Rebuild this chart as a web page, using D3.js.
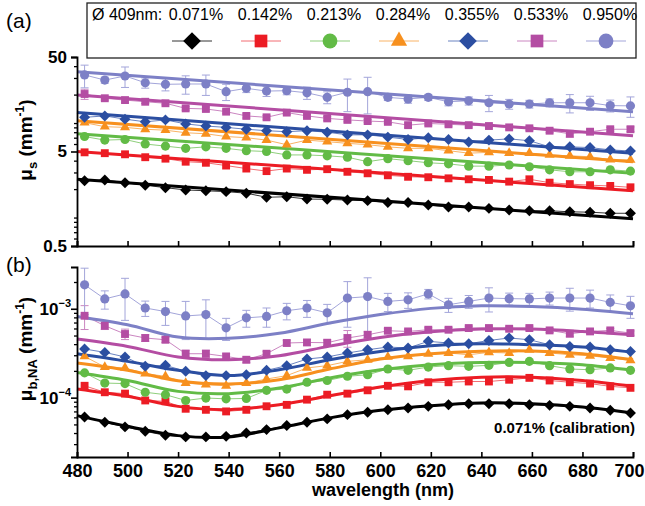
<!DOCTYPE html>
<html>
<head>
<meta charset="utf-8">
<script src="https://cdn.jsdelivr.net/npm/d3@7/dist/d3.min.js"></script>
<style>
  body { margin: 0; background: #fff; }
  text { font-family: "Liberation Sans", Arial, sans-serif; }
</style>
</head>
<body>
<svg id="chart" width="645" height="506"></svg>
<script>
// measured wavelengths (nm)
var wavelengths = [483, 491, 499, 507, 515, 523, 531, 539, 547, 555, 563, 571, 579,
                   587, 595, 603, 611, 619, 627, 635, 643, 651, 659, 667, 675, 683, 691, 699];
var xTicks = [480, 500, 520, 540, 560, 580, 600, 620, 640, 660, 680, 700];

var seriesNames = ["0.071%", "0.142%", "0.213%", "0.284%", "0.355%", "0.533%", "0.950%"];

// (a) mu_s, mm^-1
var mus071 = [2.45, 2.5, 2.34, 2.2, 2.07, 1.96, 1.92, 1.88, 1.81, 1.64, 1.66, 1.57, 1.56,
              1.53, 1.51, 1.44, 1.44, 1.36, 1.29, 1.29, 1.25, 1.20, 1.18, 1.18, 1.15, 1.14, 1.11, 1.11];
var mus142 = [4.9, 4.8, 4.67, 4.35, 4.2, 3.9, 3.8, 3.55, 3.3, 3.1, 3.3, 3.2, 3.25,
              3.05, 2.94, 2.8, 2.7, 2.67, 2.6, 2.54, 2.5, 2.4, 2.54, 2.34, 2.26, 2.2, 2.16, 2.09];
var mus213 = [7.2, 6.6, 6.7, 6.0, 5.7, 5.4, 5.6, 5.4, 5.1, 5.0, 4.6, 4.6, 4.5,
              4.35, 3.9, 4.2, 4.0, 3.8, 3.7, 3.5, 3.5, 3.6, 3.45, 3.2, 3.05, 3.05, 3.2, 3.1];
var mus284 = [10.1, 9.15, 9.0, 8.6, 8.4, 7.9, 7.7, 7.2, 7.0, 6.6, 5.9, 6.6, 6.35,
              6.1, 5.9, 5.6, 5.4, 5.4, 5.1, 4.8, 4.9, 4.8, 4.8, 4.6, 4.5, 4.4, 4.1, 4.07];
var mus355 = [11.5, 11.9, 11.0, 10.3, 10.8, 9.8, 9.3, 9.0, 8.6, 8.3, 8.1, 8.3, 8.0,
              7.5, 7.5, 7.1, 6.7, 7.0, 6.7, 6.3, 6.6, 6.8, 6.5, 5.6, 5.6, 5.5, 5.2, 5.06];
var mus533 = [20.3, 18.3, 17.5, 16.8, 16.2, 14.3, 14.1, 13.2, 11.9, 11.5, 12.9, 11.9, 11.2,
              10.8, 10.5, 10.3, 9.5, 9.9, 9.7, 9.5, 9.3, 9.0, 8.8, 8.3, 7.7, 8.1, 8.6, 8.6];
var mus950 = [32.3, 28.5, 31.5, 26.7, 25.7, 25.9, 25.9, 21.5, 23.3, 21.8, 22.0, 20.9, 18.7,
              21.2, 21.5, 18.7, 18.0, 18.7, 16.8, 17.2, 16.4, 15.9, 15.9, 16.4, 16.4, 16.4, 15.3, 15.2];
var errMus533 = [2.5, 0.8, 0.9, 0.7, 0.6, 0.6, 0.7, 0.5, 0.6, 0.5, 0.6, 0.5, 0.5,
                 0.5, 0.4, 0.4, 0.5, 0.4, 0.4, 0.4, 0.4, 0.4, 0.4, 0.4, 0.6, 0.4, 0.4, 0.5];
var errMus950 = [8.7, 2.1, 7.7, 3.3, 3.8, 5.7, 6.3, 4.2, 2.3, 2.7, 2.1, 3.1, 2.7,
                 8, 9, 1.4, 1.8, 1.4, 1.6, 1.7, 3.2, 1.9, 1.5, 1.6, 3.6, 2.8, 2.2, 3.7];

// (a) power-law fits, values at the ends of the range
var fitWlA = [480, 700];
var fitMus071 = [2.54, 0.97];
var fitMus142 = [5.0, 1.92];
var fitMus213 = [7.7, 2.94];
var fitMus284 = [10.6, 3.9];
var fitMus355 = [12.9, 4.8];
var fitMus533 = [19.8, 7.35];
var fitMus950 = [34.9, 13.2];

// (b) mu_b,NA in units of 1e-4 mm^-1
var mubUnit = 1e-4;
var mub071 = [0.607, 0.528, 0.469, 0.418, 0.377, 0.362, 0.362, 0.367, 0.401, 0.437, 0.485, 0.528, 0.577,
              0.644, 0.684, 0.733, 0.766, 0.798, 0.834, 0.856, 0.856, 0.856, 0.834, 0.819, 0.798, 0.766, 0.72, 0.673];
var mub142 = [1.36, 1.15, 1.11, 0.93, 0.91, 0.75, 0.73, 0.70, 0.73, 0.80, 0.83, 0.95, 1.08,
              1.11, 1.21, 1.36, 1.34, 1.49, 1.49, 1.52, 1.52, 1.59, 1.67, 1.56, 1.49, 1.44, 1.34, 1.29];
var mub213 = [1.90, 1.46, 1.44, 1.15, 1.08, 0.93, 0.99, 0.97, 0.98, 1.21, 1.25, 1.49, 1.56,
              1.74, 1.81, 2.10, 2.03, 2.21, 2.29, 2.25, 2.31, 2.49, 2.56, 2.29, 2.10, 2.06, 2.16, 2.03];
var mub284 = [2.91, 2.21, 2.16, 1.86, 1.74, 1.46, 1.40, 1.36, 1.46, 1.62, 1.77, 2.16, 2.29,
              2.56, 2.67, 2.87, 2.91, 3.12, 3.18, 3.04, 3.23, 3.18, 3.46, 3.18, 3.04, 2.96, 2.79, 2.63];
var mub355 = [3.53, 3.23, 2.87, 2.25, 2.31, 1.98, 1.77, 1.77, 1.81, 2.03, 2.29, 2.72, 2.87,
              3.18, 3.46, 3.71, 3.62, 4.3, 4.12, 4.04, 4.4, 4.69, 4.48, 3.94, 3.77, 3.71, 3.46, 3.31];
var mub533 = [8.34, 6.44, 5.2, 4.69, 4.48, 3.12, 3.12, 2.91, 2.67, 3.12, 4.12, 4.18, 4.15,
              4.69, 5.1, 5.66, 5.56, 5.81, 5.81, 6.07, 6.07, 5.96, 6.07, 5.71, 5.24, 5.56, 5.71, 5.33];
var mub950 = [18.6, 12.9, 14.7, 10.2, 9.3, 8.3, 8.6, 6.1, 7.9, 8.2, 9.5, 10.2, 9.0,
              13.2, 13.7, 12.1, 12.6, 14.7, 11.1, 12.1, 13.2, 13.0, 12.9, 13.2, 13.2, 13.2, 11.8, 10.8];
var errMub533 = [2.5, 0.6, 0.7, 0.4, 0.3, 0.3, 0.3, 0.2, 0.2, 0.2, 0.3, 0.3, 0.3,
                 1.0, 0.4, 0.3, 0.3, 0.3, 0.3, 0.3, 0.3, 0.3, 0.3, 0.3, 0.4, 0.3, 0.3, 0.3];
var errMub950 = [10, 3, 7.3, 2, 2.8, 3.8, 4, 1.7, 1.7, 2, 2, 2.2, 2.2,
                 7, 8.6, 2.8, 2.5, 1.8, 2, 2, 4, 2, 2, 2.2, 3.8, 3, 2.5, 3];

// (b) model fits
var fitWlB = [480, 500, 520, 540, 560, 580, 600, 620, 640, 660, 680, 700];
var fitMub071 = [0.628, 0.476, 0.374, 0.362, 0.457, 0.592, 0.72, 0.813, 0.871, 0.856, 0.786, 0.673];
var fitMub142 = [1.253, 1.035, 0.798, 0.733, 0.834, 1.05, 1.32, 1.56, 1.70, 1.70, 1.56, 1.34];
var fitMub213 = [1.92, 1.56, 1.177, 1.11, 1.285, 1.665, 2.06, 2.35, 2.49, 2.49, 2.35, 2.03];
var fitMub284 = [2.45, 2.03, 1.55, 1.425, 1.59, 2.1, 2.72, 3.12, 3.33, 3.35, 3.12, 2.67];
var fitMub355 = [3.12, 2.56, 2.03, 1.77, 2.06, 2.67, 3.31, 3.84, 4.04, 3.94, 3.71, 3.23];
var fitMub533 = [4.56, 3.77, 2.87, 2.67, 2.96, 3.8, 4.75, 5.5, 5.91, 5.91, 5.56, 5.1];
var fitMub950 = [8.2, 6.6, 4.8, 4.65, 5.3, 6.9, 8.6, 10.1, 10.8, 10.6, 9.9, 8.8];

var colors     = ["#000000", "#ec1c24", "#62bb46", "#f7901e", "#2b4ea1", "#b44da3", "#7d80c6"];
var thinColors = ["#333333", "#f26d72", "#8fcf7c", "#f9b366", "#6a83c1", "#cb86c1", "#a3a5da"];
var shapes     = ["diamond", "square", "circle", "triangle", "diamond", "square", "circle"];

var svg = d3.select("#chart");

var x  = d3.scaleLinear().domain([480, 700]).range([77, 633]);
var yA = d3.scaleLog().domain([0.5, 50]).range([246, 57]);
var yB = d3.scaleLog().domain([2.15e-5, 2.95e-3]).range([457, 267]);

function symbolPath(shape, big) {
    var k = big ? 2.6 : 1;
    if (shape === "diamond") return d3.symbol(d3.symbolSquare, 60 * k)();
    if (shape === "square") return d3.symbol(d3.symbolSquare, 62 * k)();
    if (shape === "circle") return d3.symbol(d3.symbolCircle, 66 * k)();
    return d3.symbol(d3.symbolTriangle, 44 * k)();
}

function drawPanel(y, data, errs, fitWl, fits, unit, curve) {
    var g = svg.append("g");
    var lo = y.domain()[0];

    data.forEach(function(vals, s) {
        if (!errs[s]) return;
        var eb = g.append("g").attr("stroke", thinColors[s]).attr("stroke-width", 1);
        vals.forEach(function(v, i) {
            var e = errs[s][i];
            var cx = x(wavelengths[i]);
            var y1 = y((v + e) * unit), y2 = y(Math.max(v - e, lo / unit * 1.01) * unit);
            eb.append("line").attr("x1", cx).attr("x2", cx).attr("y1", y1).attr("y2", y2);
            eb.append("line").attr("x1", cx - 4).attr("x2", cx + 4).attr("y1", y1).attr("y2", y1);
            eb.append("line").attr("x1", cx - 4).attr("x2", cx + 4).attr("y1", y2).attr("y2", y2);
        });
    });

    var thin = d3.line().x(function(d, i) { return x(wavelengths[i]); })
                        .y(function(d) { return y(d * unit); });
    data.forEach(function(vals, s) {
        g.append("path").attr("d", thin(vals))
         .attr("fill", "none").attr("stroke", thinColors[s]).attr("stroke-width", 1);
    });

    var fitLine = d3.line().curve(curve)
                    .x(function(d, i) { return x(fitWl[i]); })
                    .y(function(d) { return y(d * unit); });
    fits.forEach(function(vals, s) {
        g.append("path").attr("d", fitLine(vals))
         .attr("fill", "none").attr("stroke", colors[s]).attr("stroke-width", 3);
    });

    data.forEach(function(vals, s) {
        g.append("g").selectAll("path")
         .data(vals)
         .enter()
         .append("path")
         .attr("d", symbolPath(shapes[s], false))
         .attr("transform", function(d, i) {
             return "translate(" + x(wavelengths[i]) + "," + y(d * unit) + ")" +
                    (shapes[s] === "diamond" ? " rotate(45)" : "");
         })
         .attr("fill", colors[s]);
    });
}

drawPanel(yA,
          [mus071, mus142, mus213, mus284, mus355, mus533, mus950],
          [null, null, null, null, null, errMus533, errMus950],
          fitWlA,
          [fitMus071, fitMus142, fitMus213, fitMus284, fitMus355, fitMus533, fitMus950],
          1, d3.curveLinear);

drawPanel(yB,
          [mub071, mub142, mub213, mub284, mub355, mub533, mub950],
          [null, null, null, null, null, errMub533, errMub950],
          fitWlB,
          [fitMub071, fitMub142, fitMub213, fitMub284, fitMub355, fitMub533, fitMub950],
          mubUnit, d3.curveCatmullRom);

// axes
function isMajor(v, majors) {
    return majors.some(function(m) { return Math.abs(v / m - 1) < 1e-6; });
}

function styleAxis(sel) {
    sel.select(".domain").attr("stroke-width", 1.8);
    sel.selectAll(".tick line").attr("stroke-width", 1.6);
    sel.selectAll("text").attr("font-weight", "bold").attr("fill", "#000");
}

var majorsA = [0.5, 5, 50];
var axA = svg.append("g").attr("transform", "translate(77,0)")
             .call(d3.axisLeft(yA).tickValues(majorsA).tickSize(6).tickPadding(4)
                     .tickFormat(d3.format("~g")));
styleAxis(axA);
axA.selectAll("text").attr("font-size", 17).attr("font-family", "Liberation Sans, Arial, sans-serif");

var axAminor = svg.append("g").attr("transform", "translate(77,0)")
                  .call(d3.axisLeft(yA).tickValues(yA.ticks().filter(function(v) { return !isMajor(v, majorsA); }))
                          .tickSize(3).tickFormat(""));
axAminor.select(".domain").remove();
axAminor.selectAll(".tick line").attr("stroke-width", 1.3);

var axAx = svg.append("g").attr("transform", "translate(0,246)")
              .call(d3.axisBottom(x).tickValues(xTicks).tickSize(-5).tickFormat(""));
styleAxis(axAx);

var majorsB = [1e-3, 1e-4];
var axB = svg.append("g").attr("transform", "translate(77,0)")
             .call(d3.axisLeft(yB).tickValues(majorsB).tickSize(6).tickFormat(""));
styleAxis(axB);
axB.selectAll(".tick").each(function(d) {
    var t = d3.select(this).append("text")
              .attr("x", -6).attr("y", 6)
              .attr("text-anchor", "end")
              .attr("font-weight", "bold")
              .attr("font-size", 17)
              .attr("fill", "#000");
    t.append("tspan").text("10");
    t.append("tspan").attr("font-size", 11).attr("dy", -8).text(d3.format("d")(Math.log10(d)));
});

var axBminor = svg.append("g").attr("transform", "translate(77,0)")
                  .call(d3.axisLeft(yB).tickValues(yB.ticks().filter(function(v) { return !isMajor(v, majorsB); }))
                          .tickSize(3).tickFormat(""));
axBminor.select(".domain").remove();
axBminor.selectAll(".tick line").attr("stroke-width", 1.3);

var axBx = svg.append("g").attr("transform", "translate(0,457)")
              .call(d3.axisBottom(x).tickValues(xTicks).tickSize(-5).tickPadding(7).tickFormat(d3.format("d")));
styleAxis(axBx);
axBx.selectAll("text").attr("font-size", 18).attr("font-family", "Liberation Sans, Arial, sans-serif");
// keep the last label inside the picture
axBx.selectAll(".tick text").filter(function(d) { return d === 700; }).attr("dx", -4);

// axis titles
svg.append("text").attr("x", 383).attr("y", 496)
   .attr("text-anchor", "middle").attr("font-weight", "bold").attr("font-size", 18)
   .text("wavelength (nm)");

var tA = svg.append("text").attr("transform", "translate(32,140) rotate(-90)")
            .attr("text-anchor", "middle").attr("font-weight", "bold").attr("font-size", 19);
tA.append("tspan").text("\u03bc");
tA.append("tspan").attr("font-size", 13).attr("dy", 5).text("s");
tA.append("tspan").attr("dy", -5).text(" (mm");
tA.append("tspan").attr("font-size", 12).attr("dy", -8).text("-1");
tA.append("tspan").attr("dy", 8).text(")");

var tB = svg.append("text").attr("transform", "translate(32,349) rotate(-90)")
            .attr("text-anchor", "middle").attr("font-weight", "bold").attr("font-size", 19);
tB.append("tspan").text("\u03bc");
tB.append("tspan").attr("font-size", 13).attr("dy", 5).text("b,NA");
tB.append("tspan").attr("dy", -5).text(" (mm");
tB.append("tspan").attr("font-size", 12).attr("dy", -8).text("-1");
tB.append("tspan").attr("dy", 8).text(")");

svg.append("text").attr("x", 6).attr("y", 28).attr("font-size", 21).text("(a)");
svg.append("text").attr("x", 6).attr("y", 272).attr("font-size", 21).text("(b)");

svg.append("text").attr("x", 635).attr("y", 433)
   .attr("text-anchor", "end").attr("font-weight", "bold").attr("font-size", 15)
   .text("0.071% (calibration)");

// legend
var legend = svg.append("g");
legend.append("rect").attr("x", 87).attr("y", 3).attr("width", 549).attr("height", 55)
      .attr("fill", "#fff").attr("stroke", "#222").attr("stroke-width", 1.3);
legend.append("text").attr("x", 92).attr("y", 20).attr("font-size", 16).text("\u00d8 409nm:");
seriesNames.forEach(function(name, s) {
    var cx = 192 + s * 69;
    legend.append("text").attr("x", cx + 4).attr("y", 20).attr("text-anchor", "middle")
          .attr("font-size", 16).text(name);
    legend.append("line").attr("x1", cx - 20).attr("x2", cx + 20).attr("y1", 41).attr("y2", 41)
          .attr("stroke", thinColors[s]).attr("stroke-width", 1);
    legend.append("path").attr("d", symbolPath(shapes[s], true))
          .attr("transform", "translate(" + cx + ",41)" + (shapes[s] === "diamond" ? " rotate(45)" : ""))
          .attr("fill", colors[s]);
});
</script>
</body>
</html>
